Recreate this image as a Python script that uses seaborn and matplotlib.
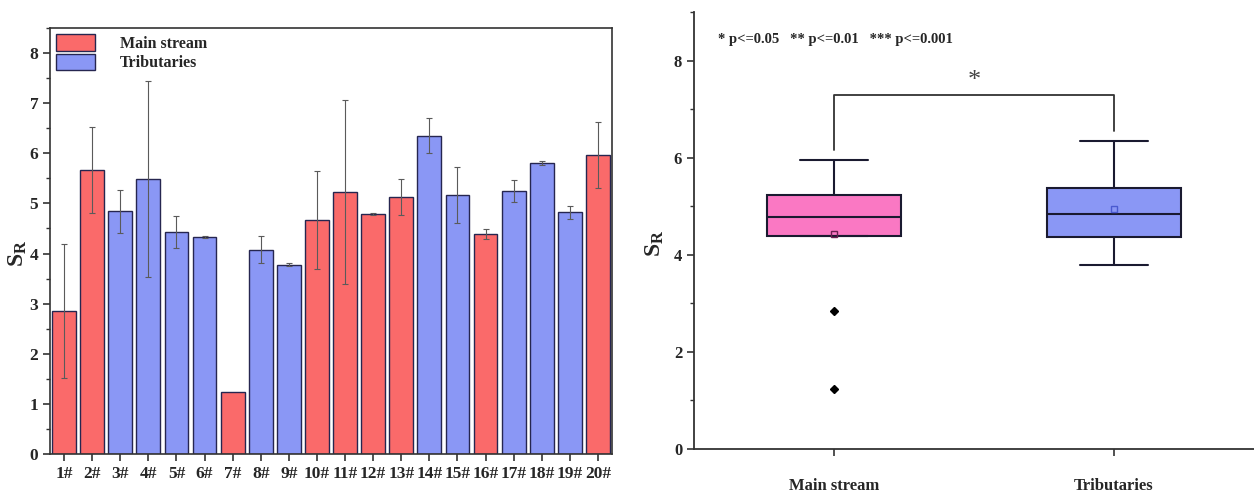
import numpy as np
import pandas as pd
import matplotlib
matplotlib.use("Agg")
import matplotlib.pyplot as plt
from matplotlib.patches import Patch
from matplotlib.ticker import MultipleLocator
import seaborn as sns

# data
sites = [f"{i}#" for i in range(1, 21)]
sr_values = [2.85, 5.66, 4.84, 5.49, 4.43, 4.32, 1.24, 4.08, 3.78, 4.67,
             5.23, 4.78, 5.12, 6.35, 5.16, 4.39, 5.24, 5.80, 4.82, 5.96]
sr_err = [1.34, 0.86, 0.43, 1.95, 0.31, 0.02, 0.0, 0.26, 0.03, 0.97,
          1.83, 0.02, 0.36, 0.35, 0.56, 0.10, 0.22, 0.04, 0.13, 0.66]
groups = ["Main stream", "Main stream", "Tributaries", "Tributaries", "Tributaries",
          "Tributaries", "Main stream", "Tributaries", "Tributaries", "Main stream",
          "Main stream", "Main stream", "Main stream", "Tributaries", "Tributaries",
          "Main stream", "Tributaries", "Tributaries", "Tributaries", "Main stream"]
group_order = ["Main stream", "Tributaries"]
p_note = "* p<=0.05   ** p<=0.01   *** p<=0.001"
sig_mark = "*"

red = "#FA6A6A"
blue = "#8A97F5"
pink = "#FA78C3"
edge = "#262650"
mean_colors = ["#6a2050", "#4a5ad0"]

sns.set_style("ticks")
plt.rcParams["font.family"] = ["Liberation Serif", "DejaVu Serif"]
plt.rcParams["font.weight"] = "bold"
plt.rcParams["axes.labelweight"] = "bold"
plt.rcParams["mathtext.fontset"] = "custom"
plt.rcParams["mathtext.rm"] = "Liberation Serif:bold"
plt.rcParams["mathtext.it"] = "Liberation Serif:bold"
plt.rcParams["mathtext.bf"] = "Liberation Serif:bold"

df = pd.DataFrame({"site": sites, "sr": sr_values, "err": sr_err, "group": groups})

fig = plt.figure(figsize=(12.54, 4.96), dpi=100)
ax1 = fig.add_axes([50 / 1254, 42 / 496, 562 / 1254, 426 / 496])
ax2 = fig.add_axes([694 / 1254, 47 / 496, 560 / 1254, 437 / 496])

# left: bars per site
sns.barplot(data=df, x="site", y="sr", hue="group", hue_order=group_order,
            palette={"Main stream": red, "Tributaries": blue}, dodge=False,
            width=0.85, edgecolor=edge, linewidth=1.0, errorbar=None,
            saturation=1, legend=False, ax=ax1)
err = df["err"].replace(0.0, np.nan)
ax1.errorbar(np.arange(len(df)), df["sr"], yerr=err, fmt="none",
             ecolor="#5a5a5a", elinewidth=0.8, capsize=2.5, capthick=0.8)
ax1.set_xlim(-0.5, len(df) - 0.5)
ax1.set_ylim(0, 8.5)
ax1.yaxis.set_major_locator(MultipleLocator(1))
ax1.yaxis.set_minor_locator(MultipleLocator(0.5))
ax1.tick_params(axis="both", which="major", direction="out", length=5, width=1.2,
                labelsize=12.5, color="#333333")
ax1.tick_params(axis="y", which="minor", direction="out", length=3, width=1.0,
                color="#333333")
for s in ax1.spines.values():
    s.set_visible(True)
    s.set_linewidth(1.2)
    s.set_color("#333333")
ax1.set_xlabel("")
ax1.set_ylabel(r"$S_R$", fontsize=17)
ax1.yaxis.set_label_coords(-0.038, 0.47)
handles = [Patch(facecolor=red, edgecolor=edge, linewidth=1.0),
           Patch(facecolor=blue, edgecolor=edge, linewidth=1.0)]
ax1.legend(handles, group_order, loc="upper left", frameon=False,
           prop={"size": 11.5, "weight": "bold"}, handlelength=2.4,
           handleheight=1.2, handletextpad=1.6, labelspacing=0.1,
           borderaxespad=0.2, borderpad=0.2)

# right: box plot by group
sns.boxplot(data=df, x="group", y="sr", hue="group", order=group_order,
            hue_order=group_order, palette={"Main stream": pink, "Tributaries": blue},
            width=0.48, linecolor="#1a1a30", linewidth=1.5, showmeans=True,
            saturation=1,
            meanprops={"marker": "s", "markerfacecolor": "none",
                       "markeredgecolor": "#5a3060", "markersize": 5},
            flierprops={"marker": "D", "markerfacecolor": "black",
                        "markeredgecolor": "black", "markersize": 4},
            legend=False, ax=ax2)
mean_lines = [ln for ln in ax2.lines if ln.get_marker() == "s"]
for ln, c in zip(mean_lines, mean_colors):
    ln.set_markeredgecolor(c)
ax2.set_xlim(-0.5, 1.5)
ax2.set_ylim(0, 9)
ax2.yaxis.set_major_locator(MultipleLocator(2))
ax2.yaxis.set_minor_locator(MultipleLocator(1))
ax2.tick_params(axis="both", which="major", direction="out", length=5, width=1.2,
                labelsize=12, color="#333333")
ax2.tick_params(axis="x", pad=16)
ax2.tick_params(axis="y", which="minor", direction="out", length=3, width=1.0,
                color="#333333")
sns.despine(ax=ax2)
for s in ["left", "bottom"]:
    ax2.spines[s].set_linewidth(1.3)
    ax2.spines[s].set_color("#333333")
ax2.set_xlabel("")
ax2.set_ylabel(r"$S_R$", fontsize=17)
ax2.yaxis.set_label_coords(-0.05, 0.47)

# significance bracket
gmax = df.groupby("group")["sr"].max().reindex(group_order).values
top = gmax.max() + 0.95
ax2.plot([0, 0, 1, 1], [gmax[0] + 0.19, top, top, gmax[1] + 0.2],
         color="#333333", lw=1.3)
ax2.text(0.5, top + 0.05, sig_mark, ha="center", va="bottom", fontsize=19,
         fontweight="normal", color="#444444")
ax2.text(0.043, 0.936, p_note, transform=ax2.transAxes, ha="left", va="center",
         fontsize=10.5, fontweight="bold")

fig.savefig("out.png", dpi=100)
